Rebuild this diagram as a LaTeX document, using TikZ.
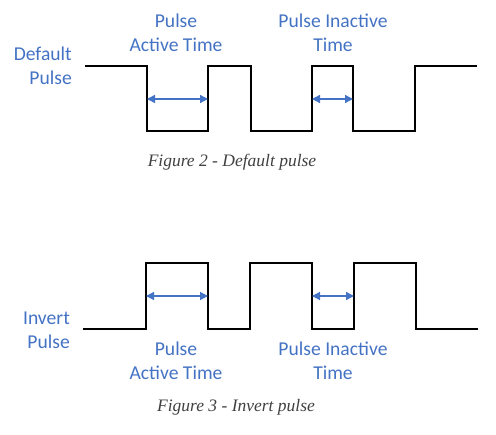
\documentclass[tikz,border=0pt]{standalone}
\usepackage{fontspec}
\usepackage{xcolor}
\usetikzlibrary{arrows.meta}
\newfontfamily\labelfont{Carlito}
\newfontfamily\capfont{Liberation Serif}
\definecolor{pulseblue}{HTML}{4472C4}
\definecolor{capgray}{HTML}{404040}

\begin{document}
\begin{tikzpicture}[x=1pt, y=-1pt]
    \tikzstyle{wave} = [draw=black, line width=1.8pt, line join=miter]
    \tikzstyle{span} = [draw=pulseblue, line width=1.4pt, {Triangle[length=8pt,width=8pt]}-{Triangle[length=8pt,width=8pt]}]
    \tikzstyle{tag} = [text=pulseblue, font=\labelfont\fontsize{19.6}{24}\selectfont, align=center, inner sep=0pt]
    \tikzstyle{side} = [tag, align=right, anchor=east]
    \tikzstyle{caption} = [text=capgray, font=\capfont\itshape\fontsize{17.5}{20}\selectfont, inner sep=0pt]

    \useasboundingbox (0,0) rectangle (496,435);

    % Default pulse
    \node [side] (def_name) at (72,66) {Default\\Pulse};
    \node [tag] (def_active) at (176,33) {Pulse\\Active Time};
    \node [tag] (def_inactive) at (333,33) {Pulse Inactive\\Time};
    \draw [wave] (85,66) -- (147,66) -- (147,131) -- (208,131) -- (208,66) -- (251,66) -- (251,131)
        -- (312,131) -- (312,66) -- (353,66) -- (353,131) -- (415,131) -- (415,66) -- (477,66);
    \coordinate (def_a1) at (147,99);
    \coordinate (def_a2) at (208,99);
    \coordinate (def_i1) at (312,99);
    \coordinate (def_i2) at (353,99);
    \draw [span] (def_a1) -- (def_a2);
    \draw [span] (def_i1) -- (def_i2);
    \node [caption] (def_cap) at (232,162) {Figure 2 - Default pulse};

    % Invert pulse
    \node [side] (inv_name) at (70,330) {Invert\\Pulse};
    \node [tag] (inv_active) at (176,361) {Pulse\\Active Time};
    \node [tag] (inv_inactive) at (333,361) {Pulse Inactive\\Time};
    \draw [wave] (83,329) -- (146,329) -- (146,263) -- (208,263) -- (208,329) -- (250,329) -- (250,263)
        -- (312,263) -- (312,329) -- (354,329) -- (354,263) -- (416,263) -- (416,329) -- (478,329);
    \coordinate (inv_a1) at (146,296);
    \coordinate (inv_a2) at (208,296);
    \coordinate (inv_i1) at (312,296);
    \coordinate (inv_i2) at (354,296);
    \draw [span] (inv_a1) -- (inv_a2);
    \draw [span] (inv_i1) -- (inv_i2);
    \node [caption] (inv_cap) at (236,407) {Figure 3 - Invert pulse};
\end{tikzpicture}
\end{document}
